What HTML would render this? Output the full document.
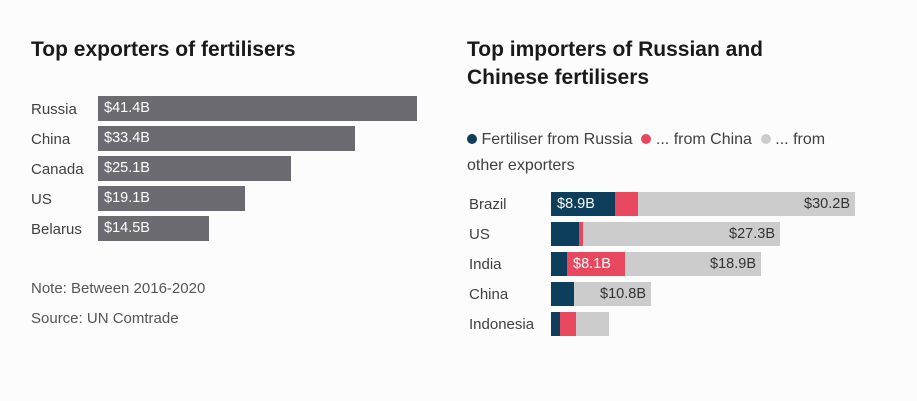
<!DOCTYPE html>
<html><head><style>
body{margin:0;width:917px;height:401px;background:#fcfcfc;font-family:"Liberation Sans",sans-serif;position:relative;overflow:hidden}
.a{position:absolute}
.t{font-weight:bold;font-size:21px;color:#1a1a1a;line-height:28px}
.l{font-size:15px;color:#404040;line-height:25px}
.b{position:absolute;height:25px}
.v{font-size:14.5px;color:#fff;line-height:25px;padding-left:6px}
.g{background:#6c6b72}
.n{background:#0d3f5c}.r{background:#e8485e}.c{background:#cccccc}
.gl{font-size:14.5px;color:#333;line-height:24px;text-align:right;padding-right:5px;box-sizing:border-box}
</style></head><body>
<div class="a t" style="left:31px;top:36px">Top exporters of fertilisers</div>
<div class="a t" style="left:467px;top:36px">Top importers of Russian and<br>Chinese fertilisers</div>

<div class="a l" style="left:31px;top:97px">Russia</div>
<div class="a l" style="left:31px;top:127px">China</div>
<div class="a l" style="left:31px;top:157px">Canada</div>
<div class="a l" style="left:31px;top:187px">US</div>
<div class="a l" style="left:31px;top:217px">Belarus</div>
<div class="b g v" style="left:98px;top:96px;width:313px">$41.4B</div>
<div class="b g v" style="left:98px;top:126px;width:251px">$33.4B</div>
<div class="b g v" style="left:98px;top:156px;width:187px">$25.1B</div>
<div class="b g v" style="left:98px;top:186px;width:141px">$19.1B</div>
<div class="b g v" style="left:98px;top:216px;width:105px">$14.5B</div>

<div class="a l" style="left:31px;top:276px;color:#555">Note: Between 2016-2020</div>
<div class="a l" style="left:31px;top:306px;color:#555">Source: UN Comtrade</div>

<div class="a l" style="left:467px;top:127px;width:380px;line-height:26px;font-size:16px">
<span style="display:inline-block;width:10px;height:10px;border-radius:50%;background:#0d3f5c"></span> Fertiliser from Russia&nbsp;
<span style="display:inline-block;width:10px;height:10px;border-radius:50%;background:#e8485e"></span> ... from China&nbsp;
<span style="display:inline-block;width:10px;height:10px;border-radius:50%;background:#ccc"></span> ... from<br>other exporters</div>

<div class="a l" style="left:469px;top:192px">Brazil</div>
<div class="a l" style="left:469px;top:222px">US</div>
<div class="a l" style="left:469px;top:252px">India</div>
<div class="a l" style="left:469px;top:282px">China</div>
<div class="a l" style="left:469px;top:312px">Indonesia</div>

<div class="b c gl" style="left:551px;top:192px;width:304px;height:24px">$30.2B</div>
<div class="b n v" style="left:551px;top:192px;width:58px;height:24px;line-height:24px">$8.9B</div>
<div class="b r" style="left:615px;top:192px;width:23px;height:24px"></div>

<div class="b c gl" style="left:551px;top:222px;width:229px;height:24px">$27.3B</div>
<div class="b n" style="left:551px;top:222px;width:28px;height:24px"></div>
<div class="b r" style="left:579px;top:222px;width:4px;height:24px"></div>

<div class="b c gl" style="left:551px;top:252px;width:210px;height:24px">$18.9B</div>
<div class="b n" style="left:551px;top:252px;width:16px;height:24px"></div>
<div class="b r v" style="left:567px;top:252px;width:52px;height:24px;line-height:24px">$8.1B</div>

<div class="b c gl" style="left:551px;top:282px;width:100px;height:24px">$10.8B</div>
<div class="b n" style="left:551px;top:282px;width:23px;height:24px"></div>

<div class="b c" style="left:551px;top:312px;width:58px;height:24px"></div>
<div class="b n" style="left:551px;top:312px;width:9px;height:24px"></div>
<div class="b r" style="left:560px;top:312px;width:16px;height:24px"></div>
</body></html>
